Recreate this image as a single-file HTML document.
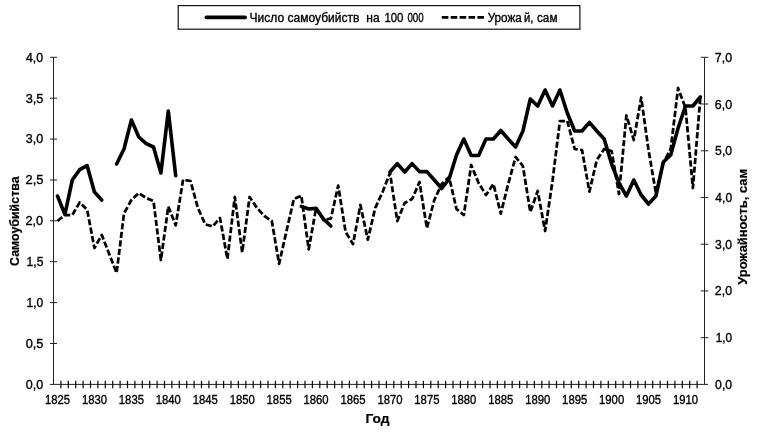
<!DOCTYPE html>
<html lang="ru"><head><meta charset="utf-8"><title>Chart</title>
<style>
html,body{margin:0;padding:0;background:#fff;}
svg{display:block;font-family:"Liberation Sans",Arial,sans-serif;}
.ax{stroke:#222;stroke-width:1;fill:none}
.tk{stroke-width:1.25;stroke:#111}
.t{fill:#000;stroke:#000;stroke-width:0.35px}
.b{font-weight:bold;fill:#000;stroke:#000;stroke-width:0.2px}
.solid{fill:none;stroke:#000;stroke-width:3.6;stroke-linejoin:round;stroke-linecap:round}
.dash{fill:none;stroke:#000;stroke-width:2.75;stroke-dasharray:6.2 2.4;stroke-linejoin:round}
</style></head><body>
<svg width="760" height="440" viewBox="0 0 760 440">
<rect width="760" height="440" fill="#fff"/>
<line x1="53.5" y1="57.3" x2="53.5" y2="384.4" class="ax"/>
<line x1="704.5" y1="57.3" x2="704.5" y2="384.4" class="ax"/>
<line x1="50.0" y1="384.4" x2="708.0" y2="384.4" class="ax"/>
<line x1="50.0" y1="343.5" x2="57.0" y2="343.5" class="ax"/>
<line x1="50.0" y1="302.6" x2="57.0" y2="302.6" class="ax"/>
<line x1="50.0" y1="261.7" x2="57.0" y2="261.7" class="ax"/>
<line x1="50.0" y1="220.8" x2="57.0" y2="220.8" class="ax"/>
<line x1="50.0" y1="180.0" x2="57.0" y2="180.0" class="ax"/>
<line x1="50.0" y1="139.1" x2="57.0" y2="139.1" class="ax"/>
<line x1="50.0" y1="98.2" x2="57.0" y2="98.2" class="ax"/>
<line x1="50.0" y1="57.3" x2="57.0" y2="57.3" class="ax"/>
<line x1="700.7" y1="337.7" x2="708.3" y2="337.7" class="ax"/>
<line x1="700.7" y1="290.9" x2="708.3" y2="290.9" class="ax"/>
<line x1="700.7" y1="244.2" x2="708.3" y2="244.2" class="ax"/>
<line x1="700.7" y1="197.5" x2="708.3" y2="197.5" class="ax"/>
<line x1="700.7" y1="150.8" x2="708.3" y2="150.8" class="ax"/>
<line x1="700.7" y1="104.0" x2="708.3" y2="104.0" class="ax"/>
<line x1="700.7" y1="57.3" x2="708.3" y2="57.3" class="ax"/>
<line x1="60.9" y1="380.79999999999995" x2="60.9" y2="388.2" class="ax tk"/>
<line x1="68.3" y1="380.79999999999995" x2="68.3" y2="388.2" class="ax tk"/>
<line x1="75.7" y1="380.79999999999995" x2="75.7" y2="388.2" class="ax tk"/>
<line x1="83.1" y1="380.79999999999995" x2="83.1" y2="388.2" class="ax tk"/>
<line x1="90.5" y1="380.79999999999995" x2="90.5" y2="388.2" class="ax tk"/>
<line x1="97.9" y1="380.79999999999995" x2="97.9" y2="388.2" class="ax tk"/>
<line x1="105.3" y1="380.79999999999995" x2="105.3" y2="388.2" class="ax tk"/>
<line x1="112.7" y1="380.79999999999995" x2="112.7" y2="388.2" class="ax tk"/>
<line x1="120.1" y1="380.79999999999995" x2="120.1" y2="388.2" class="ax tk"/>
<line x1="127.5" y1="380.79999999999995" x2="127.5" y2="388.2" class="ax tk"/>
<line x1="134.9" y1="380.79999999999995" x2="134.9" y2="388.2" class="ax tk"/>
<line x1="142.3" y1="380.79999999999995" x2="142.3" y2="388.2" class="ax tk"/>
<line x1="149.7" y1="380.79999999999995" x2="149.7" y2="388.2" class="ax tk"/>
<line x1="157.1" y1="380.79999999999995" x2="157.1" y2="388.2" class="ax tk"/>
<line x1="164.5" y1="380.79999999999995" x2="164.5" y2="388.2" class="ax tk"/>
<line x1="171.9" y1="380.79999999999995" x2="171.9" y2="388.2" class="ax tk"/>
<line x1="179.3" y1="380.79999999999995" x2="179.3" y2="388.2" class="ax tk"/>
<line x1="186.7" y1="380.79999999999995" x2="186.7" y2="388.2" class="ax tk"/>
<line x1="194.1" y1="380.79999999999995" x2="194.1" y2="388.2" class="ax tk"/>
<line x1="201.5" y1="380.79999999999995" x2="201.5" y2="388.2" class="ax tk"/>
<line x1="208.9" y1="380.79999999999995" x2="208.9" y2="388.2" class="ax tk"/>
<line x1="216.2" y1="380.79999999999995" x2="216.2" y2="388.2" class="ax tk"/>
<line x1="223.6" y1="380.79999999999995" x2="223.6" y2="388.2" class="ax tk"/>
<line x1="231.0" y1="380.79999999999995" x2="231.0" y2="388.2" class="ax tk"/>
<line x1="238.4" y1="380.79999999999995" x2="238.4" y2="388.2" class="ax tk"/>
<line x1="245.8" y1="380.79999999999995" x2="245.8" y2="388.2" class="ax tk"/>
<line x1="253.2" y1="380.79999999999995" x2="253.2" y2="388.2" class="ax tk"/>
<line x1="260.6" y1="380.79999999999995" x2="260.6" y2="388.2" class="ax tk"/>
<line x1="268.0" y1="380.79999999999995" x2="268.0" y2="388.2" class="ax tk"/>
<line x1="275.4" y1="380.79999999999995" x2="275.4" y2="388.2" class="ax tk"/>
<line x1="282.8" y1="380.79999999999995" x2="282.8" y2="388.2" class="ax tk"/>
<line x1="290.2" y1="380.79999999999995" x2="290.2" y2="388.2" class="ax tk"/>
<line x1="297.6" y1="380.79999999999995" x2="297.6" y2="388.2" class="ax tk"/>
<line x1="305.0" y1="380.79999999999995" x2="305.0" y2="388.2" class="ax tk"/>
<line x1="312.4" y1="380.79999999999995" x2="312.4" y2="388.2" class="ax tk"/>
<line x1="319.8" y1="380.79999999999995" x2="319.8" y2="388.2" class="ax tk"/>
<line x1="327.2" y1="380.79999999999995" x2="327.2" y2="388.2" class="ax tk"/>
<line x1="334.6" y1="380.79999999999995" x2="334.6" y2="388.2" class="ax tk"/>
<line x1="342.0" y1="380.79999999999995" x2="342.0" y2="388.2" class="ax tk"/>
<line x1="349.4" y1="380.79999999999995" x2="349.4" y2="388.2" class="ax tk"/>
<line x1="356.8" y1="380.79999999999995" x2="356.8" y2="388.2" class="ax tk"/>
<line x1="364.2" y1="380.79999999999995" x2="364.2" y2="388.2" class="ax tk"/>
<line x1="371.6" y1="380.79999999999995" x2="371.6" y2="388.2" class="ax tk"/>
<line x1="379.0" y1="380.79999999999995" x2="379.0" y2="388.2" class="ax tk"/>
<line x1="386.4" y1="380.79999999999995" x2="386.4" y2="388.2" class="ax tk"/>
<line x1="393.8" y1="380.79999999999995" x2="393.8" y2="388.2" class="ax tk"/>
<line x1="401.2" y1="380.79999999999995" x2="401.2" y2="388.2" class="ax tk"/>
<line x1="408.6" y1="380.79999999999995" x2="408.6" y2="388.2" class="ax tk"/>
<line x1="416.0" y1="380.79999999999995" x2="416.0" y2="388.2" class="ax tk"/>
<line x1="423.4" y1="380.79999999999995" x2="423.4" y2="388.2" class="ax tk"/>
<line x1="430.8" y1="380.79999999999995" x2="430.8" y2="388.2" class="ax tk"/>
<line x1="438.2" y1="380.79999999999995" x2="438.2" y2="388.2" class="ax tk"/>
<line x1="445.6" y1="380.79999999999995" x2="445.6" y2="388.2" class="ax tk"/>
<line x1="453.0" y1="380.79999999999995" x2="453.0" y2="388.2" class="ax tk"/>
<line x1="460.4" y1="380.79999999999995" x2="460.4" y2="388.2" class="ax tk"/>
<line x1="467.8" y1="380.79999999999995" x2="467.8" y2="388.2" class="ax tk"/>
<line x1="475.2" y1="380.79999999999995" x2="475.2" y2="388.2" class="ax tk"/>
<line x1="482.6" y1="380.79999999999995" x2="482.6" y2="388.2" class="ax tk"/>
<line x1="490.0" y1="380.79999999999995" x2="490.0" y2="388.2" class="ax tk"/>
<line x1="497.4" y1="380.79999999999995" x2="497.4" y2="388.2" class="ax tk"/>
<line x1="504.8" y1="380.79999999999995" x2="504.8" y2="388.2" class="ax tk"/>
<line x1="512.2" y1="380.79999999999995" x2="512.2" y2="388.2" class="ax tk"/>
<line x1="519.6" y1="380.79999999999995" x2="519.6" y2="388.2" class="ax tk"/>
<line x1="527.0" y1="380.79999999999995" x2="527.0" y2="388.2" class="ax tk"/>
<line x1="534.4" y1="380.79999999999995" x2="534.4" y2="388.2" class="ax tk"/>
<line x1="541.8" y1="380.79999999999995" x2="541.8" y2="388.2" class="ax tk"/>
<line x1="549.1" y1="380.79999999999995" x2="549.1" y2="388.2" class="ax tk"/>
<line x1="556.5" y1="380.79999999999995" x2="556.5" y2="388.2" class="ax tk"/>
<line x1="563.9" y1="380.79999999999995" x2="563.9" y2="388.2" class="ax tk"/>
<line x1="571.3" y1="380.79999999999995" x2="571.3" y2="388.2" class="ax tk"/>
<line x1="578.7" y1="380.79999999999995" x2="578.7" y2="388.2" class="ax tk"/>
<line x1="586.1" y1="380.79999999999995" x2="586.1" y2="388.2" class="ax tk"/>
<line x1="593.5" y1="380.79999999999995" x2="593.5" y2="388.2" class="ax tk"/>
<line x1="600.9" y1="380.79999999999995" x2="600.9" y2="388.2" class="ax tk"/>
<line x1="608.3" y1="380.79999999999995" x2="608.3" y2="388.2" class="ax tk"/>
<line x1="615.7" y1="380.79999999999995" x2="615.7" y2="388.2" class="ax tk"/>
<line x1="623.1" y1="380.79999999999995" x2="623.1" y2="388.2" class="ax tk"/>
<line x1="630.5" y1="380.79999999999995" x2="630.5" y2="388.2" class="ax tk"/>
<line x1="637.9" y1="380.79999999999995" x2="637.9" y2="388.2" class="ax tk"/>
<line x1="645.3" y1="380.79999999999995" x2="645.3" y2="388.2" class="ax tk"/>
<line x1="652.7" y1="380.79999999999995" x2="652.7" y2="388.2" class="ax tk"/>
<line x1="660.1" y1="380.79999999999995" x2="660.1" y2="388.2" class="ax tk"/>
<line x1="667.5" y1="380.79999999999995" x2="667.5" y2="388.2" class="ax tk"/>
<line x1="674.9" y1="380.79999999999995" x2="674.9" y2="388.2" class="ax tk"/>
<line x1="682.3" y1="380.79999999999995" x2="682.3" y2="388.2" class="ax tk"/>
<line x1="689.7" y1="380.79999999999995" x2="689.7" y2="388.2" class="ax tk"/>
<line x1="697.1" y1="380.79999999999995" x2="697.1" y2="388.2" class="ax tk"/>
<path d="M57.5,221.0 L64.9,215.0 L72.3,215.0 L79.7,202.4 L87.1,209.6 L94.4,248.0 L101.8,235.0 L109.2,254.0 L116.6,273.0 L124.0,213.5 L131.4,200.0 L138.8,193.0 L146.2,198.0 L153.5,201.0 L160.9,260.0 L168.3,206.5 L175.7,225.3 L183.1,179.6 L190.5,181.0 L197.9,208.0 L205.3,224.4 L212.6,226.4 L220.0,218.0 L227.4,259.0 L234.8,197.0 L242.2,252.4 L249.6,197.0 L257.0,208.0 L264.4,216.0 L271.8,221.0 L279.1,263.8 L286.5,231.0 L293.9,199.0 L301.3,195.6 L308.7,249.3 L316.1,208.0 L323.5,220.0 L330.9,218.5 L338.2,185.6 L345.6,232.0 L353.0,244.0 L360.4,205.0 L367.8,239.6 L375.2,208.0 L382.6,192.0 L390.0,173.0 L397.3,221.0 L404.7,203.0 L412.1,199.0 L419.5,182.0 L426.9,228.2 L434.3,200.0 L441.7,184.0 L449.1,177.0 L456.5,209.0 L463.8,215.0 L471.2,165.0 L478.6,183.0 L486.0,195.0 L493.4,184.0 L500.8,213.6 L508.2,184.0 L515.6,157.0 L522.9,166.0 L530.3,212.0 L537.7,191.0 L545.1,231.0 L552.5,181.0 L559.9,121.0 L567.3,121.0 L574.7,149.0 L582.0,150.0 L589.4,191.6 L596.8,160.0 L604.2,149.0 L611.6,151.0 L619.0,194.0 L626.4,115.5 L633.8,140.0 L641.2,97.5 L648.5,150.0 L655.9,193.0 L663.3,163.0 L670.7,149.0 L678.1,88.0 L685.5,108.0 L692.9,188.0 L700.3,98.0" class="dash"/>
<path d="M57.5,196.0 L64.9,214.4 L72.3,180.0 L79.7,169.6 L87.1,165.6 L94.4,192.0 L101.8,200.0" class="solid"/>
<path d="M116.6,164.0 L124.0,149.0 L131.4,120.0 L138.8,137.0 L146.2,143.6 L153.5,147.0 L160.9,173.0 L168.3,111.0 L175.7,175.6" class="solid"/>
<path d="M301.3,206.4 L308.7,209.0 L316.1,208.4 L323.5,219.0 L330.9,226.0" class="solid"/>
<path d="M390.0,172.0 L397.3,163.6 L404.7,172.0 L412.1,163.6 L419.5,171.6 L426.9,171.6 L434.3,180.0 L441.7,188.5 L449.1,179.0 L456.5,155.0 L463.8,139.0 L471.2,155.5 L478.6,155.5 L486.0,139.0 L493.4,139.0 L500.8,130.5 L508.2,139.0 L515.6,147.0 L522.9,131.0 L530.3,99.0 L537.7,106.0 L545.1,90.0 L552.5,106.0 L559.9,90.0 L567.3,113.0 L574.7,131.0 L582.0,131.0 L589.4,122.4 L596.8,131.0 L604.2,139.0 L611.6,164.0 L619.0,183.0 L626.4,196.0 L633.8,180.0 L641.2,195.0 L648.5,204.0 L655.9,196.0 L663.3,162.0 L670.7,155.0 L678.1,128.0 L685.5,106.0 L692.9,106.0 L700.3,97.0" class="solid"/>
<rect x="178.2" y="5.6" width="401.7" height="23.6" fill="#fff" stroke="#111" stroke-width="1.2"/>
<line x1="206.3" y1="17.4" x2="245.2" y2="17.4" stroke="#000" stroke-width="3.6" stroke-linecap="round"/>
<line x1="441.8" y1="17.4" x2="484" y2="17.4" stroke="#000" stroke-width="2.8" stroke-dasharray="6.6 2.3"/>
<text x="25.75" y="388.7" textLength="17.44" lengthAdjust="spacingAndGlyphs" class="t" style="font-size:12.5px">0,0</text>
<text x="25.74" y="347.8" textLength="17.71" lengthAdjust="spacingAndGlyphs" class="t" style="font-size:12.5px">0,5</text>
<text x="26.54" y="306.9" textLength="16.63" lengthAdjust="spacingAndGlyphs" class="t" style="font-size:12.5px">1,0</text>
<text x="26.53" y="266.0" textLength="16.89" lengthAdjust="spacingAndGlyphs" class="t" style="font-size:12.5px">1,5</text>
<text x="25.49" y="225.2" textLength="17.71" lengthAdjust="spacingAndGlyphs" class="t" style="font-size:12.5px">2,0</text>
<text x="25.47" y="184.3" textLength="17.99" lengthAdjust="spacingAndGlyphs" class="t" style="font-size:12.5px">2,5</text>
<text x="25.75" y="143.4" textLength="17.44" lengthAdjust="spacingAndGlyphs" class="t" style="font-size:12.5px">3,0</text>
<text x="25.74" y="102.5" textLength="17.71" lengthAdjust="spacingAndGlyphs" class="t" style="font-size:12.5px">3,5</text>
<text x="26.00" y="61.6" textLength="17.18" lengthAdjust="spacingAndGlyphs" class="t" style="font-size:12.5px">4,0</text>
<text x="715.11" y="388.9" textLength="16.97" lengthAdjust="spacingAndGlyphs" class="t" style="font-size:12.5px">0,0</text>
<text x="715.66" y="342.2" textLength="16.41" lengthAdjust="spacingAndGlyphs" class="t" style="font-size:12.5px">1,0</text>
<text x="714.86" y="295.4" textLength="17.23" lengthAdjust="spacingAndGlyphs" class="t" style="font-size:12.5px">2,0</text>
<text x="715.11" y="248.7" textLength="16.97" lengthAdjust="spacingAndGlyphs" class="t" style="font-size:12.5px">3,0</text>
<text x="715.36" y="202.0" textLength="16.72" lengthAdjust="spacingAndGlyphs" class="t" style="font-size:12.5px">4,0</text>
<text x="715.11" y="155.3" textLength="16.97" lengthAdjust="spacingAndGlyphs" class="t" style="font-size:12.5px">5,0</text>
<text x="714.86" y="108.5" textLength="17.23" lengthAdjust="spacingAndGlyphs" class="t" style="font-size:12.5px">6,0</text>
<text x="714.86" y="61.8" textLength="17.23" lengthAdjust="spacingAndGlyphs" class="t" style="font-size:12.5px">7,0</text>
<text x="44.95" y="404.2" textLength="25.11" lengthAdjust="spacingAndGlyphs" class="t" style="font-size:12.5px">1825</text>
<text x="81.89" y="404.2" textLength="25.11" lengthAdjust="spacingAndGlyphs" class="t" style="font-size:12.5px">1830</text>
<text x="118.83" y="404.2" textLength="25.11" lengthAdjust="spacingAndGlyphs" class="t" style="font-size:12.5px">1835</text>
<text x="155.77" y="404.2" textLength="25.11" lengthAdjust="spacingAndGlyphs" class="t" style="font-size:12.5px">1840</text>
<text x="192.71" y="404.2" textLength="25.11" lengthAdjust="spacingAndGlyphs" class="t" style="font-size:12.5px">1845</text>
<text x="229.65" y="404.2" textLength="25.11" lengthAdjust="spacingAndGlyphs" class="t" style="font-size:12.5px">1850</text>
<text x="266.59" y="404.2" textLength="25.11" lengthAdjust="spacingAndGlyphs" class="t" style="font-size:12.5px">1855</text>
<text x="303.53" y="404.2" textLength="25.11" lengthAdjust="spacingAndGlyphs" class="t" style="font-size:12.5px">1860</text>
<text x="340.47" y="404.2" textLength="25.11" lengthAdjust="spacingAndGlyphs" class="t" style="font-size:12.5px">1865</text>
<text x="377.41" y="404.2" textLength="25.11" lengthAdjust="spacingAndGlyphs" class="t" style="font-size:12.5px">1870</text>
<text x="414.35" y="404.2" textLength="25.11" lengthAdjust="spacingAndGlyphs" class="t" style="font-size:12.5px">1875</text>
<text x="451.29" y="404.2" textLength="25.11" lengthAdjust="spacingAndGlyphs" class="t" style="font-size:12.5px">1880</text>
<text x="488.23" y="404.2" textLength="25.11" lengthAdjust="spacingAndGlyphs" class="t" style="font-size:12.5px">1885</text>
<text x="525.17" y="404.2" textLength="25.11" lengthAdjust="spacingAndGlyphs" class="t" style="font-size:12.5px">1890</text>
<text x="562.11" y="404.2" textLength="25.11" lengthAdjust="spacingAndGlyphs" class="t" style="font-size:12.5px">1895</text>
<text x="599.05" y="404.2" textLength="25.11" lengthAdjust="spacingAndGlyphs" class="t" style="font-size:12.5px">1900</text>
<text x="635.99" y="404.2" textLength="25.11" lengthAdjust="spacingAndGlyphs" class="t" style="font-size:12.5px">1905</text>
<text x="672.93" y="404.2" textLength="25.11" lengthAdjust="spacingAndGlyphs" class="t" style="font-size:12.5px">1910</text>
<text x="249.54" y="21.7" textLength="109.91" lengthAdjust="spacingAndGlyphs" class="t" style="font-size:12.5px">Число самоубийств</text>
<text x="366.28" y="21.7" textLength="13.33" lengthAdjust="spacingAndGlyphs" class="t" style="font-size:12.5px">на</text>
<text x="384.49" y="21.7" textLength="18.96" lengthAdjust="spacingAndGlyphs" class="t" style="font-size:12.5px">100</text>
<text x="407.41" y="21.7" textLength="16.27" lengthAdjust="spacingAndGlyphs" class="t" style="font-size:12.5px">000</text>
<text x="487.73" y="21.7" textLength="34.04" lengthAdjust="spacingAndGlyphs" class="t" style="font-size:12.5px">Урожа</text>
<text x="524.02" y="21.7" textLength="9.48" lengthAdjust="spacingAndGlyphs" class="t" style="font-size:12.5px">й,</text>
<text x="537.03" y="21.7" textLength="20.41" lengthAdjust="spacingAndGlyphs" class="t" style="font-size:12.5px">сам</text>
<text x="365.48" y="422.8" textLength="24.02" lengthAdjust="spacingAndGlyphs" class="b" style="font-size:13.4px">Год</text>
<text transform="translate(19.1,265.96) rotate(-90)" textLength="89.52" lengthAdjust="spacingAndGlyphs" class="b" style="font-size:13.4px">Самоубийства</text>
<text transform="translate(746.6,284.80) rotate(-90)" textLength="115.80" lengthAdjust="spacingAndGlyphs" class="b" style="font-size:13.4px">Урожайность, сам</text>
</svg>
</body></html>
